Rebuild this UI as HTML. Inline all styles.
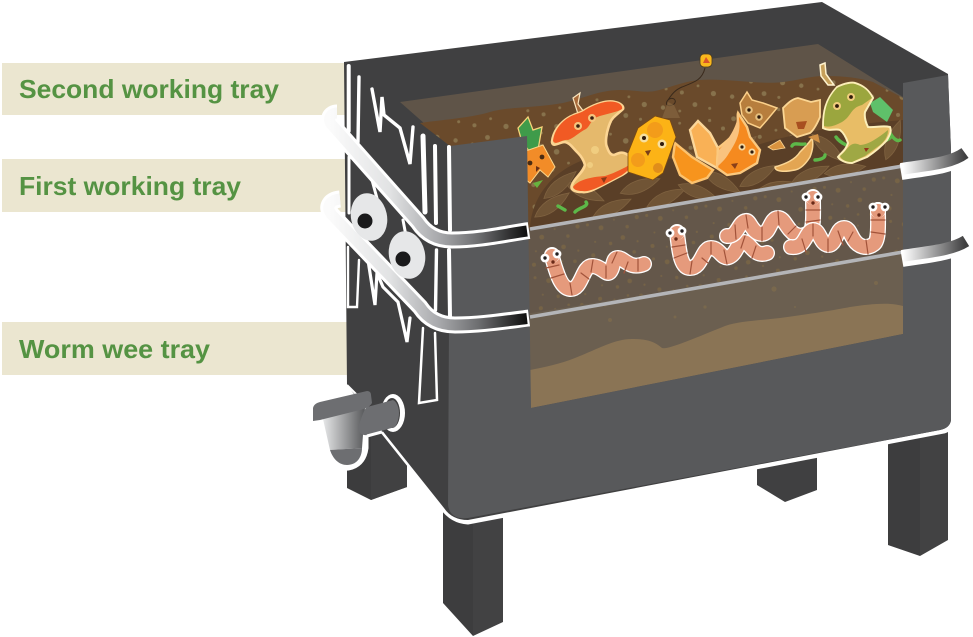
<!DOCTYPE html>
<html>
<head>
<meta charset="utf-8">
<style>
html,body{margin:0;padding:0;background:#fff;width:973px;height:637px;overflow:hidden}
svg{display:block}
text{font-family:"Liberation Sans",sans-serif;font-weight:bold;font-size:26px;fill:#559343}
</style>
</head>
<body>
<svg width="973" height="637" viewBox="0 0 973 637" xmlns="http://www.w3.org/2000/svg">
<defs>
<linearGradient id="bandL" gradientUnits="userSpaceOnUse" x1="330" y1="0" x2="528" y2="0">
<stop offset="0" stop-color="#fbfbfb"/><stop offset=".3" stop-color="#e2e3e4"/><stop offset=".55" stop-color="#a8a9ac"/><stop offset=".75" stop-color="#6d6e70"/><stop offset="1" stop-color="#0d0d0d"/>
</linearGradient>
<linearGradient id="bandR" gradientUnits="userSpaceOnUse" x1="903" y1="0" x2="965" y2="0">
<stop offset="0" stop-color="#fff"/><stop offset="1" stop-color="#3f3f40"/>
</linearGradient>
<linearGradient id="tapG" gradientUnits="userSpaceOnUse" x1="323" y1="0" x2="365" y2="0">
<stop offset="0" stop-color="#e6e7e8"/><stop offset="1" stop-color="#58595b"/>
</linearGradient>
<pattern id="dotsA" width="70" height="56" patternUnits="userSpaceOnUse" patternTransform="rotate(-9)">
<g fill="#8b7750" opacity=".9">
<circle cx="6" cy="8" r="2.4"/><circle cx="22" cy="4" r="1.4"/><circle cx="36" cy="13" r="2.8"/><circle cx="52" cy="6" r="1.6"/><circle cx="64" cy="16" r="2"/><circle cx="14" cy="24" r="1.5"/><circle cx="29" cy="30" r="2"/><circle cx="46" cy="26" r="1.4"/><circle cx="60" cy="36" r="2.6"/><circle cx="8" cy="42" r="2.2"/><circle cx="24" cy="48" r="1.4"/><circle cx="40" cy="44" r="2.4"/><circle cx="54" cy="50" r="1.5"/>
</g>
</pattern>
<pattern id="dotsB" width="60" height="44" patternUnits="userSpaceOnUse" patternTransform="rotate(-9)">
<g fill="#7a6645" opacity=".8">
<circle cx="5" cy="6" r="1.5"/><circle cx="18" cy="11" r="2.4"/><circle cx="32" cy="5" r="1"/><circle cx="44" cy="14" r="1.7"/><circle cx="55" cy="6" r="2.1"/><circle cx="10" cy="24" r="1"/><circle cx="25" cy="28" r="1.7"/><circle cx="38" cy="24" r="2.3"/><circle cx="52" cy="30" r="1.1"/><circle cx="6" cy="37" r="2"/><circle cx="20" cy="40" r="1"/><circle cx="34" cy="38" r="1.3"/><circle cx="47" cy="40" r="1.8"/>
</g>
</pattern>
<clipPath id="soilClip"><path d="M420 123C440 120 470 118 490 112C505 107 535 108 563 103C585 98 600 90 620 90C635 90 645 93 655 91C670 88 680 82 700 80C725 78 760 85 783 82C800 80 810 76 825 76C845 76 860 78 873 82L903 98V166L530 228L500 228V146L450 146Z"/></clipPath>
<path id="leaf" d="M-21 0Q-4 -12 21 0Q-4 12 -21 0Z" fill="#705435" stroke="#7f6240" stroke-width=".8"/>
<path id="wp1" d="M552 257C556 270 560 288 570 289C582 290 582 266 592 266C602 266 606 276 610 272C614 268 612 258 618 258C624 258 630 270 644 264"/>
<path id="wp2" d="M677 233C679 248 680 268 690 268C702 268 702 248 711 248C720 248 722 260 729 257C737 254 737 242 744 242C750 242 754 258 767 253"/>
<path id="wp3" d="M813 198C813 212 814 228 810 232C803 238 795 236 790 230C785 224 783 218 778 218C770 218 770 234 762 234C752 234 750 220 746 221C738 222 738 237 727 236"/>
<path id="wp4" d="M878 210C878 225 879 240 874 244C866 250 858 246 854 240C850 234 849 228 844 228C836 228 836 246 828 245C820 244 820 230 813 230C805 231 806 249 791 247"/>
</defs>

<!-- label strips -->
<rect x="2" y="63" width="345" height="52" fill="#ebe6d0"/>
<rect x="2" y="159" width="345" height="53" fill="#ebe6d0"/>
<rect x="2" y="322" width="345" height="53" fill="#ebe6d0"/>
<text x="19" y="98" textLength="260" lengthAdjust="spacingAndGlyphs">Second working tray</text>
<text x="19" y="195" textLength="222" lengthAdjust="spacingAndGlyphs">First working tray</text>
<text x="19" y="358" textLength="191" lengthAdjust="spacingAndGlyphs">Worm wee tray</text>

<!-- legs -->
<path d="M347 425V488L371 500L407 487V425Z" fill="#3c3c3d"/>
<path d="M371 430V500L407 487V430Z" fill="#414142"/>
<path d="M757 440V485L785 502L817 490V440Z" fill="#404041"/>
<path d="M443 500V603L473 636V500Z" fill="#3d3d3e"/>
<path d="M473 500V636L503 622V500Z" fill="#424243"/>
<path d="M888 410V545L920 556V410Z" fill="#3d3d3e"/>
<path d="M920 410V556L948 540V410Z" fill="#424243"/>

<!-- white halo of lower box -->
<path d="M445 511L382 432" stroke="#fff" stroke-width="3" fill="none"/>
<path d="M442 507Q452 521 468 522L944 431Q953 428 953 418" stroke="#fff" stroke-width="5" fill="none"/>

<!-- main dark silhouette -->
<path d="M344 62L822 2L948 74L951 150V420Q950 428 940 430L468 520Q452 520 444 508L385 434L347 385Z" fill="#404041"/>

<!-- interior -->
<path d="M400 102L818 44L903 97V334L531 408L500 300V146L450 146Z" fill="#5f5448"/>
<path d="M500 228L530 228L903 166V254L530 318L500 318Z" fill="#64574a"/>
<path d="M500 228L530 228L903 166V254L530 318L500 318Z" fill="url(#dotsB)"/>
<path d="M500 318L903 254V334L531 408L500 414Z" fill="#6b5f50"/>
<path d="M530 370C545 367 560 364 575 358C600 348 615 339 632 339C648 339 655 342 662 348C668 350 695 338 725 326C740 321 755 321 780 318C810 314 835 310 850 307C870 304 890 302 903 306V334L531 408Z" fill="#8a7455"/>
<g fill="#79684d">
<circle cx="774" cy="289" r="2.6"/><circle cx="605" cy="305" r="1.6"/><circle cx="675" cy="317" r="1.5"/><circle cx="705" cy="307" r="1.6"/><circle cx="795" cy="307" r="1"/><circle cx="876" cy="283" r="2"/><circle cx="610" cy="320" r="2"/>
</g>

<!-- soil -->
<path d="M420 123C440 120 470 118 490 112C505 107 535 108 563 103C585 98 600 90 620 90C635 90 645 93 655 91C670 88 680 82 700 80C725 78 760 85 783 82C800 80 810 76 825 76C845 76 860 78 873 82L903 98V166L530 228L500 228V146L450 146Z" fill="#6a4a2b"/>
<g clip-path="url(#soilClip)">
<rect x="400" y="70" width="510" height="170" fill="url(#dotsA)"/>
<path d="M530 228C532 195 555 165 600 155C640 150 680 165 720 160C770 135 840 125 903 120V166Z" fill="#5a3f27"/>
<use href="#leaf" transform="translate(552 205) rotate(-35)"/>
<use href="#leaf" transform="translate(585 192) rotate(25)"/>
<use href="#leaf" transform="translate(612 208) rotate(-25)"/>
<use href="#leaf" transform="translate(640 186) rotate(-20)"/>
<use href="#leaf" transform="translate(666 198) rotate(-25)"/>
<use href="#leaf" transform="translate(698 192) rotate(20)"/>
<use href="#leaf" transform="translate(722 182) rotate(30)"/>
<use href="#leaf" transform="translate(758 176) rotate(-30)"/>
<use href="#leaf" transform="translate(775 188) rotate(-15)"/>
<use href="#leaf" transform="translate(810 175) rotate(-25)"/>
<use href="#leaf" transform="translate(845 170) rotate(-10)"/>
<use href="#leaf" transform="translate(560 185) rotate(-40)"/>
<use href="#leaf" transform="translate(620 165) rotate(-45)"/>
<use href="#leaf" transform="translate(690 160) rotate(40)"/>
<use href="#leaf" transform="translate(893 140) rotate(-70)"/>
<use href="#leaf" transform="translate(740 150) rotate(-40)"/>
<use href="#leaf" transform="translate(828 148) rotate(40)"/>
</g>

<!-- tray lines -->
<path d="M530 229L903 166" stroke="#b4b5b8" stroke-width="3.6" fill="none"/>
<path d="M530 317L903 252" stroke="#b4b5b8" stroke-width="3.6" fill="none"/>

<!-- balloon -->
<path d="M705 68C702 80 695 82 682 87C675 90 672 94 668 100C664 104 668 108 674 104C678 100 672 96 668 100" stroke="#3a2a1c" stroke-width="1" fill="none"/>
<path d="M668 102L674 105L680 118L662 118Z" fill="#8a6a45" opacity=".6"/>
<rect x="700" y="54" width="12" height="13" rx="4" fill="#f9b71d" stroke="#4a3a20" stroke-width=".8"/>
<path d="M703 63L706 57L710 63Z" fill="#d9542a"/>

<!-- pineapple -->
<path d="M518 128L528 117L533 130L542 127L538 150L530 152L522 142Z" fill="#3f9b4a" stroke="#f7d47a" stroke-width="1.3"/>
<path d="M520 153L543 145L555 167L548 177L540 170L530 183L520 175Z" fill="#f28c28" stroke="#fbd58a" stroke-width="1"/>
<circle cx="530" cy="163" r="2.4" fill="#4a2b12"/><circle cx="542" cy="157" r="2.4" fill="#4a2b12"/>
<path d="M536 166L540 168L536 172Z" fill="#6a3015"/>
<path d="M533 183L543 180L537 188Z" fill="#67b33f"/>

<!-- apple core -->
<path d="M573 98L580 93L578 104L584 112L578 114Z" fill="#a86a3a" stroke="#fbe7bf" stroke-width="1.2"/>
<path d="M552 142C553 131 560 124 565 120C574 113 580 114 585 110C595 104 607 100 615 102C620 103 624 106 623 109C618 114 612 117 610 123C606 133 605 143 607 147C609 153 611 155 614 155C619 153 621 152 624 153C630 155 633 160 632 163C630 170 627 172 622 175L603 185C595 189 588 193 582 192C575 192 570 190 572 185C574 178 583 173 585 165C583 158 580 155 578 153C572 147 570 143 565 142C559 142 553 148 552 142Z" fill="#e5b96c" stroke="#fcd593" stroke-width="2.6"/>
<path d="M553 141C554 131 560 124 565 120C574 113 580 114 585 110C595 104 607 100 615 102C620 103 623 106 622 109C616 113 603 114 595 118C590 122 590 126 586 129C578 133 574 138 568 140C562 139 556 146 553 141Z" fill="#f15a24"/>
<path d="M573 187C578 180 590 177 605 176C612 174 620 170 626 167L630 164C630 170 626 172 622 175L603 185C595 189 588 192 582 191C578 191 574 190 573 187Z" fill="#f15a24"/>
<circle cx="578" cy="126" r="4" fill="#f6c57e"/><circle cx="578" cy="126" r="1.8" fill="#3a2010"/>
<circle cx="592" cy="118" r="4" fill="#f6c57e"/><circle cx="592" cy="118" r="1.8" fill="#3a2010"/>
<path d="M601 178L607 177L604 183Z" fill="#8a3a18"/>
<circle cx="595" cy="150" r="4" fill="#f0cd80"/><circle cx="590" cy="165" r="3" fill="#f0cd80"/>

<!-- orange lump -->
<path d="M675 143L692 157L713 170L707 178L692 183L680 175L673 157Z" fill="#f7941d" stroke="#fcc36f" stroke-width="2.4"/>
<!-- yellow tag -->
<path d="M628 153L638 128L655 116L670 120L676 137L663 173L653 180L628 172Z" fill="#fcb316" stroke="#7a4a14" stroke-width=".8"/>
<circle cx="638" cy="160" r="7" fill="#f39c1a"/><circle cx="655" cy="130" r="8" fill="#f39c1a"/><circle cx="658" cy="168" r="5" fill="#e08e1a"/>
<circle cx="644" cy="138" r="4.5" fill="#f6dfa0"/><circle cx="644" cy="138" r="2" fill="#2f1a0c"/>
<circle cx="662" cy="144" r="4.5" fill="#f6dfa0"/><circle cx="662" cy="144" r="2" fill="#2f1a0c"/>
<path d="M645 151L651 150L648 156Z" fill="#7a3f18"/>

<!-- brown shell -->
<path d="M747 92L752 100L763 103L777 108L767 120L760 128L748 123L742 115L740 103Z" fill="#b77e3d" stroke="#fbd08a" stroke-width="1.5"/>
<circle cx="749" cy="110" r="3.8" fill="#e5c07f"/><circle cx="749" cy="110" r="1.7" fill="#2d1a0d"/>
<circle cx="759" cy="117" r="3.8" fill="#e5c07f"/><circle cx="759" cy="117" r="1.7" fill="#2d1a0d"/>

<!-- orange peel -->
<path d="M690 130L698 121L710 133L718 148L717 168L697 157Z" fill="#f9b156" stroke="#fbd79a" stroke-width="2.4"/>
<path d="M718 148C726 142 733 136 737 130C739 124 737 116 738 113L747 127L750 137L760 150L757 163L740 173L727 175L717 168Z" fill="#f58a1f" stroke="#fbc97f" stroke-width="2.4"/>
<path d="M719 150C725 143 735 132 738 116C742 128 738 140 729 153C725 160 721 163 717 167Z" fill="#f9c37f"/>
<circle cx="742" cy="147" r="3.5" fill="#f6d8a0"/><circle cx="742" cy="147" r="1.6" fill="#2d1a0d"/>
<circle cx="752" cy="152" r="3.5" fill="#f6d8a0"/><circle cx="752" cy="152" r="1.6" fill="#2d1a0d"/>
<path d="M731 164L738 163L735 169Z" fill="#8a3f18"/>

<!-- round shell and peel -->
<path d="M783 108C788 103 792 99 798 98L811 102L820 100L820 117C817 124 814 130 810 133L797 137L785 128Z" fill="#d89d52" stroke="#fbd694" stroke-width="1.8"/>
<path d="M796 122L807 121L804 129L798 129Z" fill="#a84f20"/>
<path d="M775 167C785 164 795 160 800 152C805 147 810 142 812 138C814 145 812 152 810 157C805 165 800 169 795 170C785 172 775 172 775 167Z" fill="#e3a552" stroke="#fbd694" stroke-width="1.5"/>
<path d="M768 147L780 140L785 148L773 150Z" fill="#d9933f" stroke="#fbd694" stroke-width=".8"/>
<path d="M808 137L818 134L820 143Z" fill="#cf8f44"/>

<!-- green bits -->
<g fill="none" stroke="#5db849" stroke-width="3.4" stroke-linecap="round">
<path d="M792 146C794 142 800 145 805 144"/><path d="M815 160C820 160 825 158 825 155"/><path d="M836 137C840 143 845 144 848 146"/><path d="M890 133C893 138 897 142 900 140"/>
<path d="M857 148C870 146 880 145 890 138"/><path d="M575 212C578 208 590 206 586 202"/><path d="M558 206L565 210"/>
</g>

<!-- green apple -->
<path d="M820 65L825 63L826 74L834 85L828 85L821 76Z" fill="#c7a05a" stroke="#fff3cf" stroke-width="1.5"/>
<path d="M870 103L880 97L893 110L887 122L873 112Z" fill="#5fc06a"/>
<path d="M823 128C823 112 825 100 837 87C845 83 852 82 855 83C865 86 870 92 873 98L865 112C864 118 866 123 868 127C875 128 882 125 890 127C892 132 889 136 887 140C880 148 873 153 867 157L852 163C845 163 840 160 838 157C842 152 846 150 848 143C846 137 844 133 840 130C835 128 830 132 823 128Z" fill="#e8bd66" stroke="#fcefb8" stroke-width="2"/>
<path d="M824 126C824 112 826 100 837 88C845 84 852 83 855 84C865 87 869 92 872 98L862 105C850 108 852 116 842 122C836 125 830 128 824 126Z" fill="#9ba63e"/>
<path d="M840 156C848 150 850 140 860 145C868 145 878 138 888 130C888 135 886 140 880 145L865 156L852 162C846 162 842 160 840 156Z" fill="#9fa844"/>
<circle cx="837" cy="106" r="4" fill="#f1cd7d"/><circle cx="837" cy="106" r="1.9" fill="#2f1b0c"/>
<circle cx="851" cy="97" r="4" fill="#f1cd7d"/><circle cx="851" cy="97" r="1.9" fill="#2f1b0c"/>
<path d="M864 148L869 148L866 152Z" fill="#96351a"/>

<!-- worms -->
<g fill="none" stroke-linecap="round" stroke-linejoin="round">
<use href="#wp1" stroke="#fff" stroke-width="16"/><use href="#wp1" stroke="#e59a7c" stroke-width="13.4"/>
<use href="#wp2" stroke="#fff" stroke-width="16"/><use href="#wp2" stroke="#e59a7c" stroke-width="13.4"/>
<use href="#wp3" stroke="#fff" stroke-width="16"/><use href="#wp3" stroke="#e59a7c" stroke-width="13.4"/>
<use href="#wp4" stroke="#fff" stroke-width="16"/><use href="#wp4" stroke="#e59a7c" stroke-width="13.4"/>
<g stroke="#a2533a" stroke-width="1.2">
<path d="M546 268L559 265M551 278L564 274M570 283L572 295M581 273L589 279M593 260L591 272M606 266L606 278M617 252L612 263M628 262L624 273M638 259L638 271"/>
<path d="M672 247L685 245M674 258L687 253M692 261L690 274M702 258L708 263M711 242L711 254M724 250L727 264M745 236L741 248M756 246L752 258"/>
<path d="M806 210L820 210M806 222L820 220M796 226L788 234M778 211L779 225M762 227L762 241M746 215L748 228M735 225L736 239"/>
<path d="M871 220L885 220M871 232L885 234M866 240L868 254M853 232L848 241M838 231L843 245M828 239L828 252M813 224L813 236M802 239L806 252"/>
</g>
</g>
<g>
<g fill="#fff">
<circle cx="552" cy="255" r="8"/><circle cx="677" cy="232" r="8"/><circle cx="813" cy="197" r="8"/><circle cx="878" cy="210" r="8"/>
</g>
<g fill="#e59a7c"><circle cx="552" cy="256" r="7"/><circle cx="677" cy="233" r="7"/><circle cx="813" cy="198" r="7"/><circle cx="878" cy="211" r="7"/></g>
<g fill="#fff">
<circle cx="545" cy="258" r="4.4"/><circle cx="557" cy="254" r="4.4"/>
<circle cx="670" cy="233" r="4.4"/><circle cx="682" cy="231" r="4.4"/>
<circle cx="806" cy="197" r="4.4"/><circle cx="818" cy="197" r="4.4"/>
<circle cx="873" cy="207" r="4.4"/><circle cx="885" cy="207" r="4.4"/>
</g>
<g fill="#231f20">
<circle cx="545" cy="258" r="1.7"/><circle cx="557" cy="254" r="1.7"/>
<circle cx="670" cy="233" r="1.7"/><circle cx="682" cy="231" r="1.7"/>
<circle cx="806" cy="197" r="1.7"/><circle cx="818" cy="197" r="1.7"/>
<circle cx="873" cy="207" r="1.7"/><circle cx="885" cy="207" r="1.7"/>
</g>
<g fill="#6a2a18">
<circle cx="553" cy="262" r="1.7"/><circle cx="676" cy="239" r="1.7"/><circle cx="813" cy="203" r="1.7"/><circle cx="879" cy="215" r="1.7"/>
</g>
</g>

<!-- front panels -->
<path d="M450 146L527 136L531 408L903 334V97L903 83L948 75L951 150L951 420Q950 428 940 430L468 518Q450 520 448 505Z" fill="#58595b"/>

<!-- side marks -->
<g stroke="#fff" fill="none" stroke-linecap="round" stroke-linejoin="miter">
<path d="M348.7 66V131" stroke-width="4"/>
<path d="M359 77L358 142" stroke-width="3.4"/>
<path d="M372 89L380 132L382 97L384 115L400 128L410 164L413 127" stroke-width="3.4"/>
<path d="M423 136L425 212" stroke-width="5"/>
<path d="M435 146L436 223" stroke-width="4"/>
<path d="M449 147L450 230" stroke-width="4"/>
<path d="M349 157V213" stroke-width="3"/>
<path d="M372 180L378 202" stroke-width="3"/>
<path d="M403 220L406 236" stroke-width="3"/>
<path d="M436.500 250L435.500 310" stroke-width="3.4"/>
<path d="M449 250L450 317" stroke-width="4"/>
<path d="M348 247V307H357L359 260" stroke-width="2.4"/>
<path d="M368 260L375 305L377 273L383 287L398 302L407 342L410 318" stroke-width="3.2"/>
<path d="M423 328L419 403L437 400L435 333" stroke-width="2.5"/>
</g>

<!-- left bands -->
<g fill="none">
<path d="M337 113C330 113 327 120 332 125L418 222Q430 240 452 240C480 240 505 234 529 230.500" stroke="#fff" stroke-width="17"/>
<path d="M337 113C330 113 327 120 332 125L418 222Q430 240 452 240C480 240 505 234 527 231" stroke="url(#bandL)" stroke-width="11"/>
<path d="M340 199C330 200 325 207 332 215L420 307Q432 325 455 325C480 325 505 321 529 318" stroke="#fff" stroke-width="17"/>
<path d="M340 199C330 200 325 207 332 215L420 307Q432 325 455 325C480 325 505 321 527 318.500" stroke="url(#bandL)" stroke-width="11"/>
</g>

<!-- right bands -->
<g fill="none">
<path d="M901 172C925 168 950 167 965 155" stroke="#fff" stroke-width="16"/>
<path d="M901 169C925 165 950 164 965 153" stroke="url(#bandR)" stroke-width="12"/>
<path d="M902 259C925 255 950 254 966 243" stroke="#fff" stroke-width="16"/>
<path d="M902 256C925 252 950 251 966 241" stroke="url(#bandR)" stroke-width="12"/>
</g>

<!-- eyes -->
<ellipse cx="369" cy="217" rx="18" ry="24" fill="#e6e7e8" transform="rotate(-12 369 217)"/>
<circle cx="365" cy="221" r="7.500" fill="#1a1a1b"/>
<ellipse cx="407" cy="255" rx="18" ry="24" fill="#e6e7e8" transform="rotate(-12 407 255)"/>
<circle cx="403" cy="259" r="7.500" fill="#1a1a1b"/>

<!-- tap -->
<ellipse cx="393" cy="413" rx="12" ry="19" fill="#fff"/>
<ellipse cx="392" cy="413" rx="8" ry="15" fill="#404041"/>
<path d="M347 385L358 396" stroke="#fff" stroke-width="2" fill="none"/>
<path d="M323 419L365 408L365 448Q363 462 352 466Q340 470 333 460Z" fill="#fff" stroke="#fff" stroke-width="7" stroke-linejoin="round"/>
<path d="M323 419L365 408L362 448L330 450Z" fill="url(#tapG)"/>
<path d="M330 450L362 448C362 458 356 465 347 465C339 465 333 459 330 450Z" fill="#6d6e71"/>
<path d="M358 427C362 417 364 409 367 407L393 400C397 402 399 408 399 413C399 419 397 424 395 427L367 435C362 436 358 432 358 427Z" fill="#6d6e71"/>
<path d="M367 436L382 432" stroke="#fff" stroke-width="3" fill="none"/>
<path d="M313 408C314 404 317 403 320 402L367 391C370 391 371 393 371 395L372 403C370 407 364 409 360 410L320 420L313 421Z" fill="#6d6e71"/>
</svg>
</body>
</html>
